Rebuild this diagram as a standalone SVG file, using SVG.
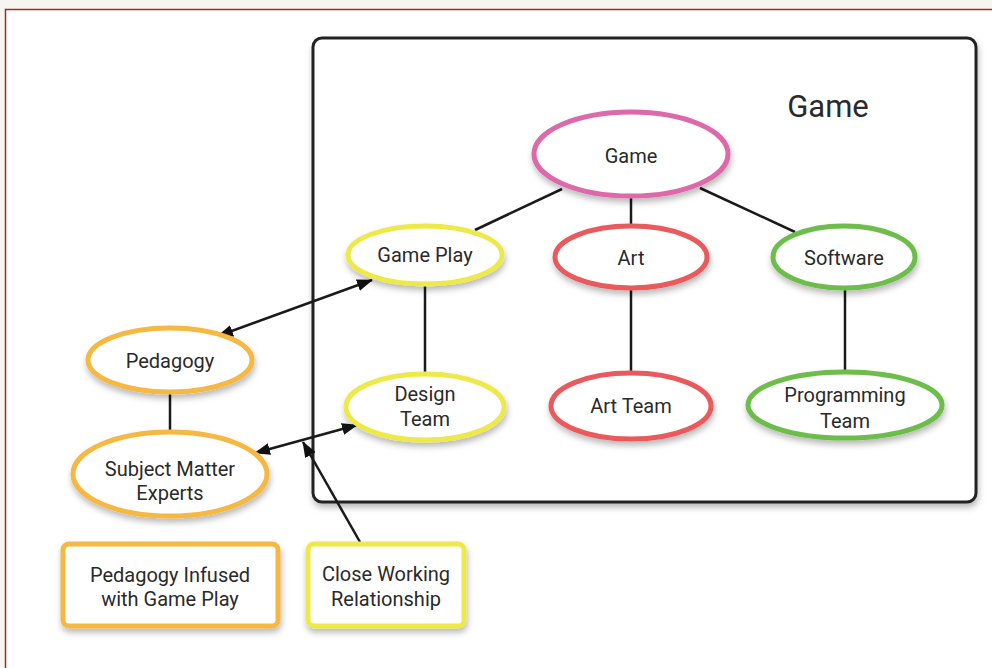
<svg xmlns="http://www.w3.org/2000/svg" width="992" height="668" viewBox="0 0 992 668">
<defs>
<filter id="sh" x="-20%" y="-20%" width="140%" height="150%">
<feDropShadow dx="1" dy="4" stdDeviation="3" flood-color="#000" flood-opacity="0.28"/>
</filter>
<marker id="ah" viewBox="0 0 16 12" refX="15" refY="6" markerWidth="16" markerHeight="12" markerUnits="userSpaceOnUse" orient="auto-start-reverse">
<path d="M0,0 L16,6 L0,12 Z" fill="#111"/>
</marker>
<style>
.t{font-family:Roboto,"Liberation Sans",sans-serif;font-size:20px;fill:#2a2a2a;text-anchor:middle}
.n{fill:#fff;stroke-width:5;filter:url(#sh)}
.pink{stroke:#dc6aab}
.yel{stroke:#ece94a}
.red{stroke:#ea5a5c}
.grn{stroke:#6cbd4a}
.org{stroke:#f5b843}
.c{stroke:#1a1a1a;stroke-width:2.5;fill:none}
</style>
</defs>
<rect x="0" y="0" width="992" height="668" fill="#f7f5ef"/>
<rect x="5.5" y="9.5" width="1000" height="700" fill="#fff" stroke="#a0282a" stroke-width="1.5"/>
<g id="container">
<rect x="313" y="38" width="663" height="464" rx="9" fill="#fff" stroke="#222" stroke-width="3" filter="url(#sh)"/>
<text x="828" y="117" class="t" style="font-size:31px">Game</text>
</g>
<g id="connectors">
<line class="c" x1="562" y1="189" x2="475" y2="230"/>
<line class="c" x1="631" y1="198" x2="631" y2="226"/>
<line class="c" x1="700" y1="188" x2="795" y2="232"/>
<line class="c" x1="425" y1="285" x2="425" y2="374"/>
<line class="c" x1="631" y1="289" x2="631" y2="373"/>
<line class="c" x1="845" y1="289" x2="845" y2="372"/>
<line class="c" x1="170" y1="393" x2="170" y2="432"/>
<line class="c" x1="218" y1="336" x2="372" y2="280" marker-start="url(#ah)" marker-end="url(#ah)"/>
<line class="c" x1="255" y1="453" x2="357" y2="425" marker-start="url(#ah)" marker-end="url(#ah)"/>
<line class="c" x1="360" y1="542" x2="303" y2="442" marker-end="url(#ah)"/>
</g>
<g id="game"><ellipse class="n pink" cx="631" cy="154" rx="97" ry="42"/><text class="t" x="631" y="163">Game</text></g>
<g id="gameplay"><ellipse class="n yel" cx="425" cy="255" rx="77" ry="29"/><text class="t" x="425" y="262">Game Play</text></g>
<g id="art"><ellipse class="n red" cx="631" cy="257" rx="76" ry="31"/><text class="t" x="631" y="265">Art</text></g>
<g id="software"><ellipse class="n grn" cx="844" cy="257" rx="71" ry="31"/><text class="t" x="844" y="265">Software</text></g>
<g id="designteam"><ellipse class="n yel" cx="425" cy="407" rx="79" ry="33"/><text class="t" x="425" y="401">Design</text><text class="t" x="425" y="426">Team</text></g>
<g id="artteam"><ellipse class="n red" cx="631" cy="406" rx="80" ry="33"/><text class="t" x="631" y="413">Art Team</text></g>
<g id="progteam"><ellipse class="n grn" cx="845" cy="405" rx="97" ry="33"/><text class="t" x="845" y="402">Programming</text><text class="t" x="845" y="428">Team</text></g>
<g id="pedagogy"><ellipse class="n org" cx="170" cy="360" rx="82" ry="32"/><text class="t" x="170" y="368">Pedagogy</text></g>
<g id="sme"><ellipse class="n org" cx="170" cy="474" rx="97" ry="42"/><text class="t" x="170" y="476">Subject Matter</text><text class="t" x="170" y="500">Experts</text></g>
<g id="legend1"><rect class="n org" x="63" y="544" width="215" height="82" rx="6"/><text class="t" x="170" y="582">Pedagogy Infused</text><text class="t" x="170" y="606">with Game Play</text></g>
<g id="legend2"><rect class="n yel" x="308" y="544" width="156" height="82" rx="6"/><text class="t" x="386" y="581">Close Working</text><text class="t" x="386" y="606">Relationship</text></g>
</svg>
